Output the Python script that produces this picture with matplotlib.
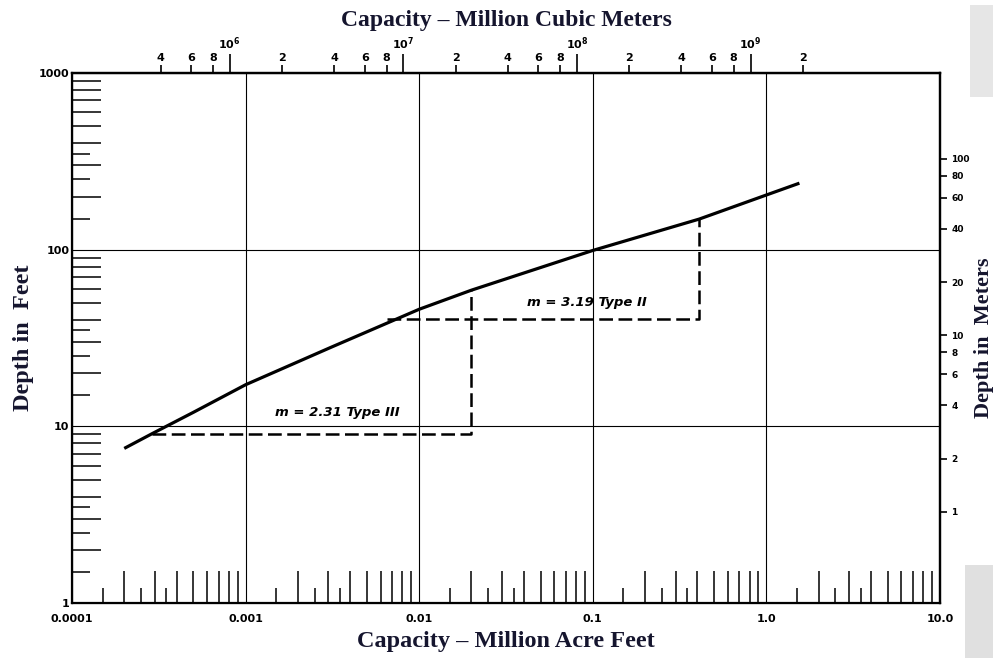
import matplotlib
matplotlib.use('Agg')
import matplotlib.pyplot as plt
from matplotlib.patches import Rectangle
from matplotlib.ticker import NullLocator, NullFormatter

# depth-capacity curve (capacity in million acre-feet, depth in feet)
capacity_maf = [2.0e-4, 2.9e-4, 5.0e-4, 1.0e-3, 3.1e-3, 1.0e-2, 2.0e-2, 0.1, 0.41, 1.0, 1.55]
depth_ft = [7.5, 9.1, 12.0, 17.2, 28.0, 46, 59, 99, 149, 204, 238]

# slope construction lines: horizontal run then vertical rise
type3_x = [2.9e-4, 0.02, 0.02]
type3_y = [9.0, 9.0, 59]
type2_x = [6.5e-3, 0.41, 0.41]
type2_y = [40.5, 40.5, 149]
type3_label = 'm = 2.31 Type III'
type2_label = 'm = 3.19 Type II'

x_decades = [1e-4, 1e-3, 1e-2, 1e-1, 1.0, 10.0]
x_decade_labels = ['0.0001', '0.001', '0.01', '0.1', '1.0', '10.0']
y_decades = [1, 10, 100, 1000]
y_decade_labels = ['1', '10', '100', '1000']

# inner scale marks within each decade
long_marks = [2, 3, 4, 5, 6, 7, 8, 9]
short_marks = [1.5, 2.5, 3.5]

# top scale in cubic meters
m3_major = [1e6, 1e7, 1e8, 1e9]
m3_major_labels = [r'$\mathbf{10^{6}}$', r'$\mathbf{10^{7}}$', r'$\mathbf{10^{8}}$', r'$\mathbf{10^{9}}$']
m3_minor = [4e5, 6e5, 8e5, 2e6, 4e6, 6e6, 8e6, 2e7, 4e7, 6e7, 8e7,
            2e8, 4e8, 6e8, 8e8, 2e9]
m3_minor_labels = ['4', '6', '8', '2', '4', '6', '8', '2', '4', '6', '8',
                   '2', '4', '6', '8', '2']

# right scale in meters
meter_ticks = [1, 2, 4, 6, 8, 10, 20, 40, 60, 80, 100]

M3_PER_MAF = 1.23348e9
FT_PER_M = 3.2808

label_font = dict(family='Liberation Serif', weight='bold', color='#15152e')

fig = plt.figure(figsize=(9.93, 6.58), dpi=100)
ax = fig.add_axes([0.0725, 0.0836, 0.9466 - 0.0725, 0.889 - 0.0836])
ax.set_xscale('log')
ax.set_yscale('log')
ax.set_xlim(1e-4, 10)
ax.set_ylim(1, 1000)

for s in ax.spines.values():
    s.set_linewidth(1.6)

ax.plot(capacity_maf, depth_ft, color='black', lw=2.3, solid_capstyle='butt', zorder=3)
ax.plot(type3_x, type3_y, color='black', lw=1.8, dashes=(5.5, 2.2), zorder=3)
ax.plot(type2_x, type2_y, color='black', lw=1.8, dashes=(5.5, 2.2), zorder=3)
ax.text(3.36e-3, 11.9, type3_label, ha='center', va='center', fontsize=9.5,
        style='italic', weight='bold')
ax.text(0.0925, 50, type2_label, ha='center', va='center', fontsize=9.5,
        style='italic', weight='bold')

# decade grid with labels
ax.set_xticks(x_decades, labels=x_decade_labels)
ax.set_yticks(y_decades, labels=y_decade_labels)
ax.grid(which='major', color='black', lw=0.8)
ax.tick_params(which='major', length=0, labelsize=8)
ax.tick_params(axis='x', which='major', pad=8)
ax.tick_params(axis='y', which='major', pad=2)
for lab in ax.get_xticklabels() + ax.get_yticklabels():
    lab.set_fontweight('bold')

xs_long = [d * m for d in x_decades[:-1] for m in long_marks]
ys_long = [d * m for d in y_decades[:-1] for m in long_marks]
xs_short = [d * m for d in x_decades[:-1] for m in short_marks]
ys_short = [d * m for d in y_decades[:-1] for m in short_marks]

ax.set_xticks(xs_long, minor=True)
ax.set_yticks(ys_long, minor=True)
ax.xaxis.set_minor_formatter(NullFormatter())
ax.yaxis.set_minor_formatter(NullFormatter())
ax.tick_params(axis='x', which='minor', direction='in', length=23, width=1.1)
ax.tick_params(axis='y', which='minor', direction='in', length=21, width=1.1)

# shorter half-step marks
bot_short = ax.secondary_xaxis('bottom')
bot_short.set_xticks(xs_short)
bot_short.xaxis.set_minor_locator(NullLocator())
bot_short.tick_params(direction='in', length=11, width=1.1, labelbottom=False)
left_short = ax.secondary_yaxis('left')
left_short.set_yticks(ys_short)
left_short.yaxis.set_minor_locator(NullLocator())
left_short.tick_params(direction='in', length=13, width=1.1, labelleft=False)

# cubic meter scale on top
top = ax.secondary_xaxis('top', functions=(lambda v: v * M3_PER_MAF,
                                           lambda v: v / M3_PER_MAF))
top.set_xticks(m3_major, labels=m3_major_labels)
top.set_xticks(m3_minor, labels=m3_minor_labels, minor=True)
top.tick_params(which='major', direction='out', length=14, width=1.2, pad=1, labelsize=8)
top.tick_params(which='minor', direction='out', length=6, width=1.2, pad=1, labelsize=8)
for lab in top.get_xticklabels(minor=True):
    lab.set_fontweight('bold')
top.spines['top'].set_linewidth(1.6)
top.set_xlabel('Capacity – Million Cubic Meters', labelpad=7, size=17, **label_font)

# meter scale on the right
right = ax.secondary_yaxis('right', functions=(lambda d: d / FT_PER_M,
                                               lambda m: m * FT_PER_M))
right.set_yticks(meter_ticks, labels=[str(v) for v in meter_ticks])
right.yaxis.set_minor_locator(NullLocator())
right.tick_params(direction='out', length=5, width=1.2, pad=3, labelsize=6.5)
for lab in right.get_yticklabels():
    lab.set_fontweight('bold')
right.spines['right'].set_linewidth(1.6)
right.set_ylabel('Depth in  Meters', labelpad=3, size=16, **label_font)

ax.set_xlabel('Capacity – Million Acre Feet', labelpad=5, size=17.5, **label_font)
ax.set_ylabel('Depth in  Feet', labelpad=3, size=17.5, **label_font)

# grey edge of the scanned sheet
fig.add_artist(Rectangle((0.977, 0.853), 0.023, 0.139, transform=fig.transFigure,
                         color='#e6e6e6', lw=0, zorder=0))
fig.add_artist(Rectangle((0.972, 0.0), 0.028, 0.141, transform=fig.transFigure,
                         color='#e0e0e0', lw=0, zorder=0))

fig.savefig('out.png', dpi=100)
